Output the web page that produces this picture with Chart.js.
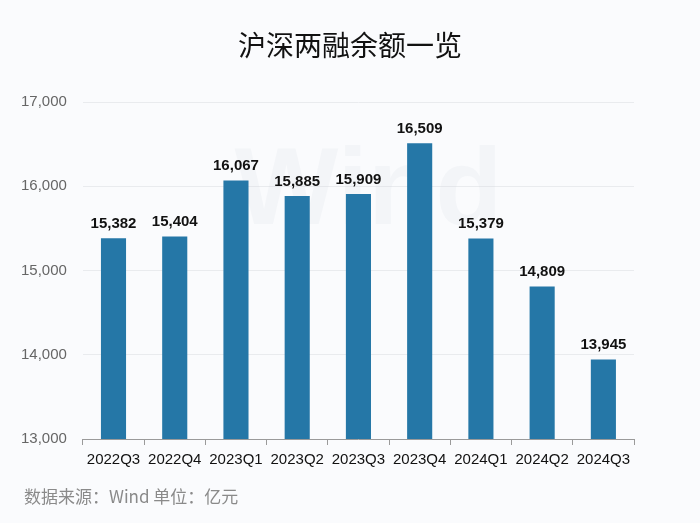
<!DOCTYPE html>
<html>
<head>
<meta charset="utf-8">
<script src="https://cdn.jsdelivr.net/npm/chart.js@4"></script>
<style>
  html, body { margin: 0; padding: 0; background: #fafbfd; }
  #wrap { width: 700px; height: 523px; }
</style>
</head>
<body>
<div id="wrap"><canvas id="c"></canvas></div>
<script>
var quarters = ['2022Q3', '2022Q4', '2023Q1', '2023Q2', '2023Q3', '2023Q4', '2024Q1', '2024Q2', '2024Q3'];
var balances = [15382, 15404, 16067, 15885, 15909, 16509, 15379, 14809, 13945];
var yTicks = [13000, 14000, 15000, 16000, 17000];

var fontFamily = '"Noto Sans CJK SC", "Liberation Sans", Arial, sans-serif';
var latin = '"Liberation Sans", Arial, sans-serif';

// faint "Wind" watermark behind the bars
var watermark = {
    id: 'watermark',
    beforeDatasetsDraw: function (chart) {
        var ctx = chart.ctx, area = chart.chartArea;
        ctx.save();
        ctx.font = 'bold 110px ' + latin;
        ctx.fillStyle = 'rgba(205,210,218,0.14)';
        ctx.textAlign = 'center';
        ctx.textBaseline = 'middle';
        ctx.fillText('Wind', (area.left + area.right) / 2 + 10, area.top + 92);
        ctx.restore();
    }
};

// value labels above each bar
var barLabels = {
    id: 'barLabels',
    afterDatasetsDraw: function (chart) {
        var ctx = chart.ctx,
            meta = chart.getDatasetMeta(0);
        ctx.save();
        ctx.font = 'bold 15px ' + latin;
        ctx.fillStyle = '#111';
        ctx.textAlign = 'center';
        ctx.textBaseline = 'bottom';
        meta.data.forEach(function (bar, i) {
            ctx.fillText(balances[i].toLocaleString('en-US'), bar.x, bar.y - 7);
        });
        ctx.restore();
    }
};

// title centred on the page, source note bottom left
var texts = {
    id: 'texts',
    afterDraw: function (chart) {
        var ctx = chart.ctx;
        ctx.save();
        ctx.textBaseline = 'middle';
        ctx.font = '28px ' + fontFamily;
        ctx.fillStyle = '#111';
        ctx.textAlign = 'center';
        ctx.fillText('沪深两融余额一览', chart.width / 2, 45);
        ctx.font = '17px ' + fontFamily;
        ctx.fillStyle = '#8a8a8a';
        ctx.textAlign = 'left';
        ctx.fillText('数据来源：Wind 单位：亿元', 24, chart.height - 26);
        ctx.restore();
    }
};

new Chart(document.getElementById('c'), {
    type: 'bar',
    data: {
        labels: quarters,
        datasets: [{
            data: balances,
            backgroundColor: '#2577a7',
            barPercentage: 0.82,
            categoryPercentage: 0.5
        }]
    },
    options: {
        responsive: true,
        maintainAspectRatio: false,
        animation: false,
        layout: { padding: { left: 5, right: 66, top: 102, bottom: 48 } },
        plugins: {
            legend: { display: false },
            tooltip: { enabled: false }
        },
        scales: {
            x: {
                grid: {
                    drawOnChartArea: false,
                    drawTicks: true,
                    tickLength: 6,
                    color: '#9a9a9a'
                },
                border: { display: true, color: '#9a9a9a' },
                ticks: {
                    color: '#111',
                    padding: 6,
                    font: { family: latin, size: 15 }
                }
            },
            y: {
                min: yTicks[0],
                max: yTicks[yTicks.length - 1],
                afterBuildTicks: function (axis) {
                    axis.ticks = yTicks.map(function (v) { return { value: v }; });
                },
                grid: { color: '#e9ebee', drawTicks: false },
                border: { display: false },
                ticks: {
                    color: '#666',
                    padding: 16,
                    font: { family: latin, size: 15 },
                    callback: function (v) { return v.toLocaleString('en-US'); }
                }
            }
        }
    },
    plugins: [watermark, barLabels, texts]
});
</script>
</body>
</html>
